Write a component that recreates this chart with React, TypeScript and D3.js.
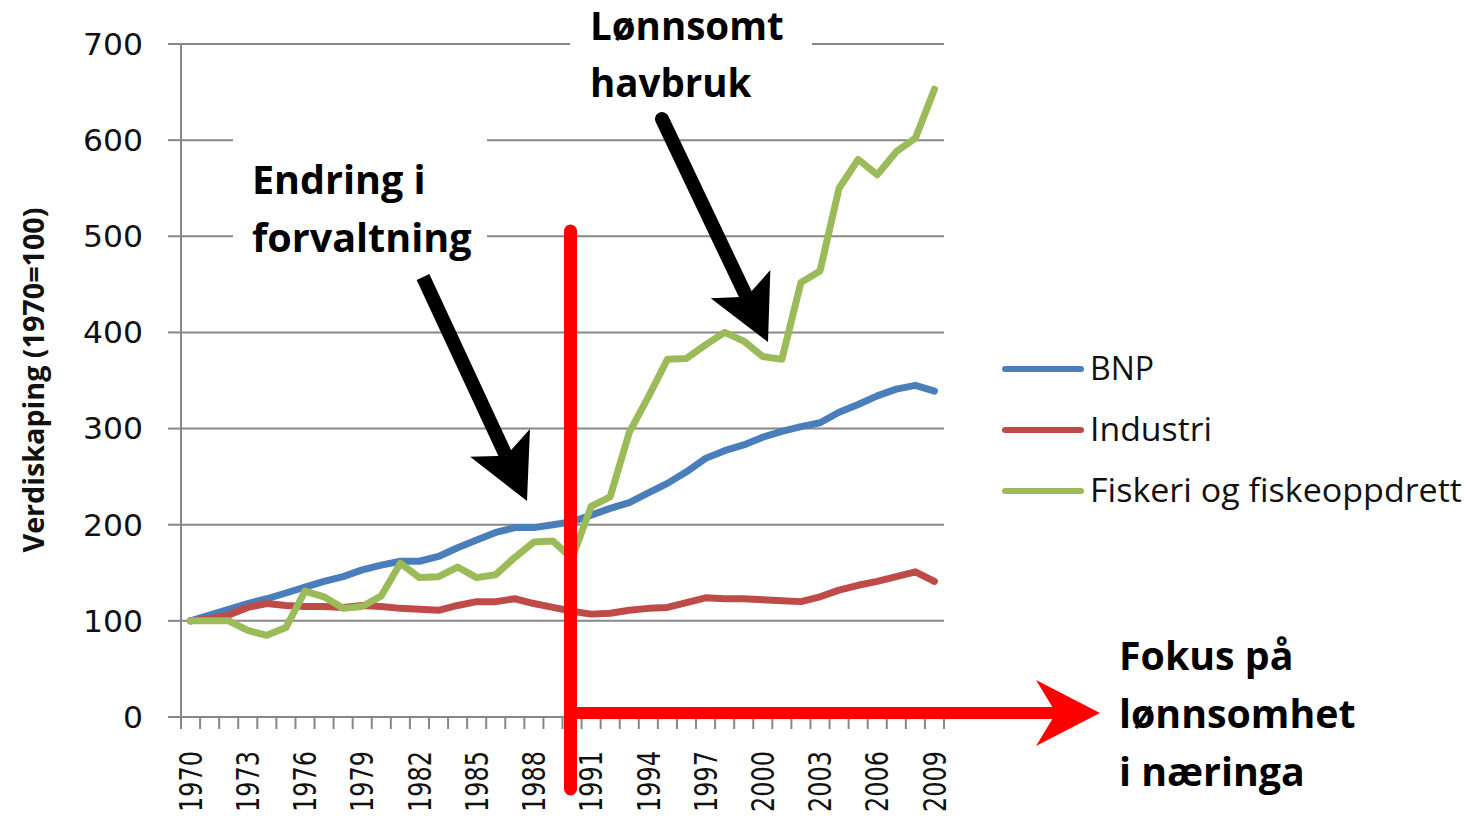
import React, { useEffect, useRef } from 'react';
import * as d3 from 'd3';

// Years on the category axis
const years: number[] = d3.range(1970, 2010);

// Index values (1970 = 100)
const bnp: number[] = [
  100, 106, 112, 118, 123, 129, 135, 141, 146, 153,
  158, 162, 162, 167, 176, 184, 192, 197, 197, 200,
  203, 210, 217, 223, 233, 243, 255, 269, 277, 283,
  291, 297, 302, 306, 317, 325, 334, 341, 345, 339,
];

const industri: number[] = [
  100, 102, 106, 114, 118, 116, 115, 115, 114, 116,
  115, 113, 112, 111, 116, 120, 120, 123, 118, 114,
  110, 107, 108, 111, 113, 114, 119, 124, 123, 123,
  122, 121, 120, 125, 132, 137, 141, 146, 151, 141,
];

const fiskeri: number[] = [
  100, 100, 100, 90, 85, 93, 131, 125, 113, 115,
  126, 160, 145, 146, 156, 145, 148, 166, 182, 183,
  165, 219, 229, 296, 333, 372, 373, 387, 400, 391,
  375, 372, 452, 464, 550, 580, 564, 588, 602, 653,
];

const yTicks: number[] = [0, 100, 200, 300, 400, 500, 600, 700];
const xLabelYears: number[] = d3.range(1970, 2010, 3);

const seriesNames: string[] = ['BNP', 'Industri', 'Fiskeri og fiskeoppdrett'];
const seriesColors: string[] = ['#4a7ebb', '#be4b48', '#9bbb59'];
const legendWidths: number[] = [64, 122, 372];

const WIDTH = 1474;
const HEIGHT = 816;

type Sel = d3.Selection<SVGGElement, unknown, null, undefined>;

// Block arrow with a notched head, drawn from start to tip
const drawArrow = (
  g: Sel,
  start: [number, number],
  tip: [number, number],
  color: string,
  shaft: number,
  headLen: number,
  headHalf: number,
  notch: number,
  cap: string
) => {
  const dx = tip[0] - start[0];
  const dy = tip[1] - start[1];
  const len = Math.sqrt(dx * dx + dy * dy);
  const ux = dx / len;
  const uy = dy / len;
  const nx = -uy;
  const ny = ux;
  const bx = tip[0] - ux * headLen;
  const by = tip[1] - uy * headLen;
  const neckX = bx + ux * notch;
  const neckY = by + uy * notch;

  g.append('line')
    .attr('x1', start[0])
    .attr('y1', start[1])
    .attr('x2', neckX)
    .attr('y2', neckY)
    .attr('stroke', color)
    .attr('stroke-width', shaft)
    .attr('stroke-linecap', cap);

  const pts: [number, number][] = [
    [bx + nx * headHalf, by + ny * headHalf],
    tip,
    [bx - nx * headHalf, by - ny * headHalf],
    [neckX, neckY],
  ];
  g.append('polygon')
    .attr('points', pts.map(p => p.join(',')).join(' '))
    .attr('fill', color);
};

const App: React.FC = () => {
  const svgRef = useRef<SVGSVGElement>(null);

  useEffect(() => {
    if (!svgRef.current) return;
    d3.select(svgRef.current).selectAll('*').remove();

    const svg = d3.select(svgRef.current)
      .attr('width', WIDTH)
      .attr('height', HEIGHT);

    const g: Sel = svg.append('g');

    const x = d3.scaleBand<number>()
      .domain(years)
      .range([181, 944]);
    const cx = (yr: number) => (x(yr) as number) + x.bandwidth() / 2;

    const y = d3.scaleLinear()
      .domain([0, 700])
      .range([717, 44]);

    const gridColor = '#878787';

    // Horizontal gridlines
    g.selectAll('.grid')
      .data(yTicks.filter(t => t > 0))
      .enter()
      .append('line')
      .attr('x1', 181)
      .attr('x2', 944)
      .attr('y1', d => y(d))
      .attr('y2', d => y(d))
      .attr('stroke', gridColor)
      .attr('stroke-width', 2);

    // Y axis
    g.append('line')
      .attr('x1', 181).attr('x2', 181)
      .attr('y1', y(700)).attr('y2', y(0))
      .attr('stroke', gridColor)
      .attr('stroke-width', 2);

    g.selectAll('.ytick')
      .data(yTicks)
      .enter()
      .append('line')
      .attr('x1', 168)
      .attr('x2', 181)
      .attr('y1', d => y(d))
      .attr('y2', d => y(d))
      .attr('stroke', gridColor)
      .attr('stroke-width', 2);

    g.selectAll('.ylabel')
      .data(yTicks)
      .enter()
      .append('text')
      .attr('x', 143)
      .attr('y', d => y(d))
      .attr('dy', '0.36em')
      .attr('text-anchor', 'end')
      .attr('font-family', 'DejaVu Sans')
      .attr('font-size', 30)
      .attr('textLength', d => String(d).length * 20)
      .attr('lengthAdjust', 'spacingAndGlyphs')
      .attr('fill', '#111')
      .text(d => d);

    // X axis
    g.append('line')
      .attr('x1', 181).attr('x2', 944)
      .attr('y1', y(0)).attr('y2', y(0))
      .attr('stroke', gridColor)
      .attr('stroke-width', 2);

    const boundaries = years.map(yr => x(yr) as number).concat([944]);
    g.selectAll('.xtick')
      .data(boundaries)
      .enter()
      .append('line')
      .attr('x1', d => d)
      .attr('x2', d => d)
      .attr('y1', y(0))
      .attr('y2', y(0) + 12)
      .attr('stroke', gridColor)
      .attr('stroke-width', 2);

    g.selectAll('.xlabel')
      .data(xLabelYears)
      .enter()
      .append('text')
      .attr('transform', d => `translate(${cx(d)}, 751) rotate(-90) scale(1, 1.3)`)
      .attr('dy', '0.36em')
      .attr('text-anchor', 'end')
      .attr('font-family', 'DejaVu Sans')
      .attr('font-size', 24)
      .attr('fill', '#111')
      .text(d => d);

    // Y axis title
    g.append('text')
      .attr('transform', 'translate(34, 380) rotate(-90)')
      .attr('dy', '0.35em')
      .attr('text-anchor', 'middle')
      .attr('font-family', 'Open Sans')
      .attr('font-weight', 700)
      .attr('font-size', 29)
      .attr('textLength', 345)
      .attr('lengthAdjust', 'spacingAndGlyphs')
      .attr('fill', '#111')
      .text('Verdiskaping (1970=100)');

    // Series lines
    const line = d3.line<number>()
      .x((_, i) => cx(years[i]))
      .y(d => y(d));

    [bnp, industri, fiskeri].forEach((values, i) => {
      g.append('path')
        .attr('d', line(values) as string)
        .attr('fill', 'none')
        .attr('stroke', seriesColors[i])
        .attr('stroke-width', 7)
        .attr('stroke-linejoin', 'round')
        .attr('stroke-linecap', 'round');
    });

    // Legend
    seriesNames.forEach((name, i) => {
      const ly = 369 + i * 61;
      g.append('line')
        .attr('x1', 1005).attr('x2', 1081)
        .attr('y1', ly).attr('y2', ly)
        .attr('stroke', seriesColors[i])
        .attr('stroke-width', 6)
        .attr('stroke-linecap', 'round');
      g.append('text')
        .attr('x', 1090)
        .attr('y', ly + 11)
        .attr('font-family', 'Open Sans')
        .attr('font-size', 32)
        .attr('textLength', legendWidths[i])
        .attr('lengthAdjust', 'spacingAndGlyphs')
        .attr('fill', '#111')
        .text(name);
    });

    // White text boxes over the grid
    g.append('rect')
      .attr('x', 570).attr('y', 0)
      .attr('width', 242).attr('height', 108)
      .attr('fill', '#fff');
    g.append('rect')
      .attr('x', 233).attr('y', 128)
      .attr('width', 254).attr('height', 144)
      .attr('fill', '#fff');

    // Red marker at 1990 and arrow to the right
    g.append('line')
      .attr('x1', 570.5).attr('x2', 570.5)
      .attr('y1', 231).attr('y2', 789)
      .attr('stroke', '#ff0000')
      .attr('stroke-width', 13)
      .attr('stroke-linecap', 'round');
    drawArrow(g, [570, 713], [1100, 713], '#ff0000', 12, 64, 33, 20, 'butt');

    // Black arrows
    drawArrow(g, [423, 277], [527, 501], '#000', 14, 64, 33, 14, 'butt');
    drawArrow(g, [662, 119], [768, 342], '#000', 14, 64, 33, 14, 'round');

    // Annotation texts
    const annot = (lines: string[], x0: number, y0: number, step: number, size: number) => {
      lines.forEach((t, i) => {
        g.append('text')
          .attr('x', x0)
          .attr('y', y0 + i * step)
          .attr('font-family', 'Open Sans')
          .attr('font-weight', 700)
          .attr('font-size', size)
          .attr('fill', '#000')
          .text(t);
      });
    };
    annot(['Lønnsomt', 'havbruk'], 590, 40, 57, 38.5);
    annot(['Endring i', 'forvaltning'], 252, 194, 58, 39.5);
    annot(['Fokus på', 'lønnsomhet', 'i næringa'], 1119, 670, 58, 39.3);
  }, []);

  return (
    <svg
      ref={svgRef}
      style={{ position: 'absolute', left: 0, top: 0, display: 'block', background: '#fff' }}
    />
  );
};

export default App;
